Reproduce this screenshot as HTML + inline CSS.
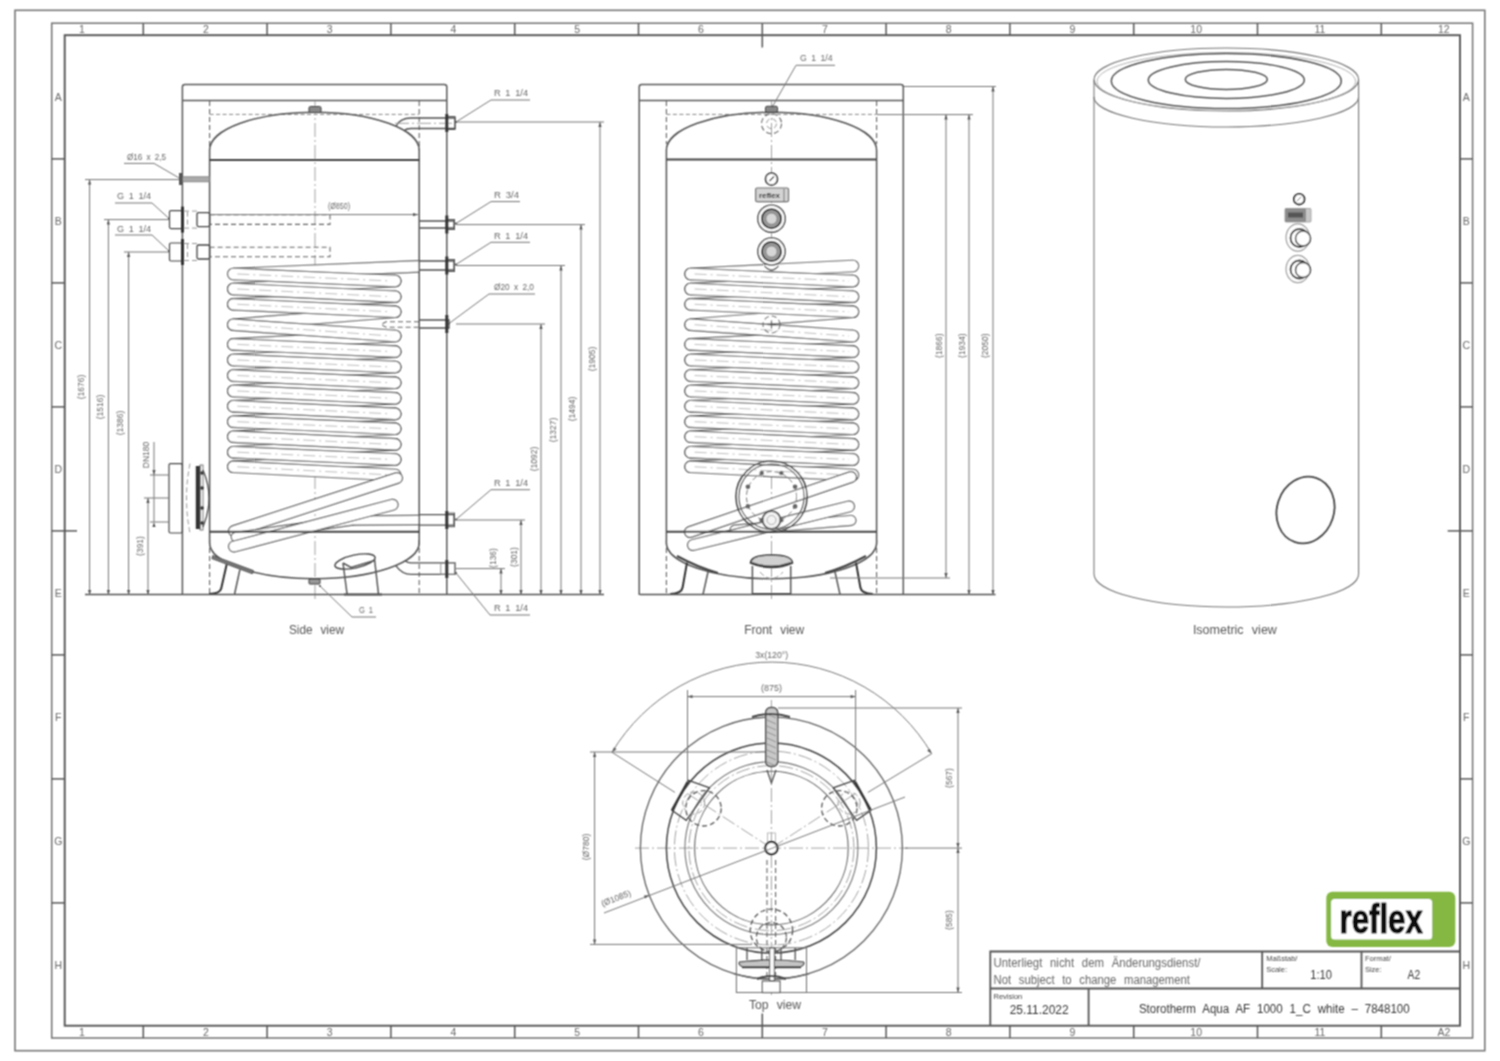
<!DOCTYPE html>
<html><head><meta charset="utf-8"><title>Storotherm Aqua AF 1000</title><style>
html,body{margin:0;padding:0;background:#fff;}
svg{display:block;}
text{font-family:"Liberation Sans",sans-serif;}
.fr{stroke:#555;stroke-width:1.5;}
.zn{font-size:10.5px;fill:#666;text-anchor:middle;}
.tb1{font-size:12.5px;fill:#666;word-spacing:5px;}
.tbs{font-size:7.5px;fill:#444;}
.tb2{font-size:12.5px;fill:#333;word-spacing:4px;}

.k{fill:none;stroke:#505050;stroke-width:1.3;}
.k2{fill:none;stroke:#555;stroke-width:1.5;}
.kc{fill:none;stroke:#5a5a5a;stroke-width:1.5;}
.kk{fill:none;stroke:#444;stroke-width:2;}
.d{fill:none;stroke:#777;stroke-width:1;}
.c{fill:none;stroke:#999;stroke-width:0.9;stroke-dasharray:14 3 2 3;}
.h{fill:none;stroke:#666;stroke-width:1.1;stroke-dasharray:5 3;}
.hl{fill:none;stroke:#999;stroke-width:1;stroke-dasharray:5 3;}
.hi{fill:none;stroke:#888;stroke-width:1;stroke-dasharray:4 2.5;}
.t{font-size:8.5px;fill:#666;word-spacing:2px;}
.tv{font-size:13px;fill:#555;word-spacing:5px;}
.ar{fill:#555;stroke:none;}
</style></head>
<body><svg width="1500" height="1061" viewBox="0 0 1500 1061">
<defs><filter id="bl" filterUnits="userSpaceOnUse" x="0" y="0" width="1500" height="1061"><feConvolveMatrix order="3" kernelMatrix="1 2 1 2 4 2 1 2 1" divisor="16" edgeMode="none"/></filter></defs>
<rect width="1500" height="1061" fill="#fff"/>
<g filter="url(#bl)">
<rect x="15" y="10.3" width="1469.8" height="1040.4" fill="none" stroke="#777" stroke-width="1.6"/>
<rect x="51.7" y="23.2" width="1420.9" height="1014.8" fill="none" stroke="#6e6e6e" stroke-width="1.45"/>
<rect x="64.7" y="35.2" width="1395.3" height="990.5" fill="none" stroke="#555" stroke-width="1.9"/>
<line x1="143.3" y1="23.2" x2="143.3" y2="35.2" class="fr"/>
<line x1="143.3" y1="1025.7" x2="143.3" y2="1038" class="fr"/>
<line x1="267.1" y1="23.2" x2="267.1" y2="35.2" class="fr"/>
<line x1="267.1" y1="1025.7" x2="267.1" y2="1038" class="fr"/>
<line x1="390.9" y1="23.2" x2="390.9" y2="35.2" class="fr"/>
<line x1="390.9" y1="1025.7" x2="390.9" y2="1038" class="fr"/>
<line x1="514.7" y1="23.2" x2="514.7" y2="35.2" class="fr"/>
<line x1="514.7" y1="1025.7" x2="514.7" y2="1038" class="fr"/>
<line x1="638.5" y1="23.2" x2="638.5" y2="35.2" class="fr"/>
<line x1="638.5" y1="1025.7" x2="638.5" y2="1038" class="fr"/>
<line x1="762.3" y1="23.2" x2="762.3" y2="47.5" class="fr"/>
<line x1="762.3" y1="1013.5" x2="762.3" y2="1038" class="fr"/>
<line x1="886.1" y1="23.2" x2="886.1" y2="35.2" class="fr"/>
<line x1="886.1" y1="1025.7" x2="886.1" y2="1038" class="fr"/>
<line x1="1009.9" y1="23.2" x2="1009.9" y2="35.2" class="fr"/>
<line x1="1009.9" y1="1025.7" x2="1009.9" y2="1038" class="fr"/>
<line x1="1133.7" y1="23.2" x2="1133.7" y2="35.2" class="fr"/>
<line x1="1133.7" y1="1025.7" x2="1133.7" y2="1038" class="fr"/>
<line x1="1257.5" y1="23.2" x2="1257.5" y2="35.2" class="fr"/>
<line x1="1257.5" y1="1025.7" x2="1257.5" y2="1038" class="fr"/>
<line x1="1381.3" y1="23.2" x2="1381.3" y2="35.2" class="fr"/>
<line x1="1381.3" y1="1025.7" x2="1381.3" y2="1038" class="fr"/>
<line x1="51.8" y1="158.9" x2="64.6" y2="158.9" class="fr"/>
<line x1="1460" y1="158.9" x2="1472.6" y2="158.9" class="fr"/>
<line x1="51.8" y1="282.9" x2="64.6" y2="282.9" class="fr"/>
<line x1="1460" y1="282.9" x2="1472.6" y2="282.9" class="fr"/>
<line x1="51.8" y1="406.9" x2="64.6" y2="406.9" class="fr"/>
<line x1="1460" y1="406.9" x2="1472.6" y2="406.9" class="fr"/>
<line x1="51.8" y1="530.9" x2="77" y2="530.9" class="fr"/>
<line x1="1447.7" y1="530.9" x2="1472.6" y2="530.9" class="fr"/>
<line x1="51.8" y1="654.9" x2="64.6" y2="654.9" class="fr"/>
<line x1="1460" y1="654.9" x2="1472.6" y2="654.9" class="fr"/>
<line x1="51.8" y1="778.9" x2="64.6" y2="778.9" class="fr"/>
<line x1="1460" y1="778.9" x2="1472.6" y2="778.9" class="fr"/>
<line x1="51.8" y1="902.9" x2="64.6" y2="902.9" class="fr"/>
<line x1="1460" y1="902.9" x2="1472.6" y2="902.9" class="fr"/>
<text x="82.0" y="33" class="zn">1</text>
<text x="82.0" y="1035.5" class="zn">1</text>
<text x="205.8" y="33" class="zn">2</text>
<text x="205.8" y="1035.5" class="zn">2</text>
<text x="329.6" y="33" class="zn">3</text>
<text x="329.6" y="1035.5" class="zn">3</text>
<text x="453.4" y="33" class="zn">4</text>
<text x="453.4" y="1035.5" class="zn">4</text>
<text x="577.2" y="33" class="zn">5</text>
<text x="577.2" y="1035.5" class="zn">5</text>
<text x="701.0" y="33" class="zn">6</text>
<text x="701.0" y="1035.5" class="zn">6</text>
<text x="824.8" y="33" class="zn">7</text>
<text x="824.8" y="1035.5" class="zn">7</text>
<text x="948.6" y="33" class="zn">8</text>
<text x="948.6" y="1035.5" class="zn">8</text>
<text x="1072.4" y="33" class="zn">9</text>
<text x="1072.4" y="1035.5" class="zn">9</text>
<text x="1196.2" y="33" class="zn">10</text>
<text x="1196.2" y="1035.5" class="zn">10</text>
<text x="1320.0" y="33" class="zn">11</text>
<text x="1320.0" y="1035.5" class="zn">11</text>
<text x="1443.8" y="33" class="zn">12</text>
<text x="1443.8" y="1035.5" class="zn">A2</text>
<text x="58.3" y="100.8" class="zn">A</text>
<text x="1466.3" y="100.8" class="zn">A</text>
<text x="58.3" y="224.8" class="zn">B</text>
<text x="1466.3" y="224.8" class="zn">B</text>
<text x="58.3" y="348.8" class="zn">C</text>
<text x="1466.3" y="348.8" class="zn">C</text>
<text x="58.3" y="472.8" class="zn">D</text>
<text x="1466.3" y="472.8" class="zn">D</text>
<text x="58.3" y="596.8" class="zn">E</text>
<text x="1466.3" y="596.8" class="zn">E</text>
<text x="58.3" y="720.8" class="zn">F</text>
<text x="1466.3" y="720.8" class="zn">F</text>
<text x="58.3" y="844.8" class="zn">G</text>
<text x="1466.3" y="844.8" class="zn">G</text>
<text x="58.3" y="968.8" class="zn">H</text>
<text x="1466.3" y="968.8" class="zn">H</text>
<path d="M990.3 1025.7 V951.5 H1460 M990.3 988.5 H1460 M1088.6 988.5 V1025.7 M1262.2 951.5 V988.5 M1361.5 951.5 V988.5" fill="none" stroke="#555" stroke-width="1.8"/>
<text x="993.5" y="967.4" class="tb1" textLength="207" lengthAdjust="spacingAndGlyphs">Unterliegt nicht dem Änderungsdienst/</text>
<text x="993.5" y="983.6" class="tb1" textLength="196.5" lengthAdjust="spacingAndGlyphs">Not subject to change management</text>
<text x="993.5" y="998.5" class="tbs">Revision</text>
<text x="1009.7" y="1014.4" class="tb2" textLength="59" lengthAdjust="spacingAndGlyphs">25.11.2022</text>
<text x="1138.9" y="1013" class="tb2" textLength="270.8" lengthAdjust="spacingAndGlyphs">Storotherm Aqua AF 1000 1_C white – 7848100</text>
<text x="1266.2" y="961" class="tbs">Maßstab/</text>
<text x="1266.2" y="972" class="tbs">Scale:</text>
<text x="1310.3" y="979" class="tb2" textLength="21.7" lengthAdjust="spacingAndGlyphs">1:10</text>
<text x="1364.9" y="961" class="tbs">Format/</text>
<text x="1364.9" y="972" class="tbs">Size:</text>
<text x="1407.6" y="979" class="tb2" textLength="12.6" lengthAdjust="spacingAndGlyphs">A2</text>
<rect x="1326.3" y="891.8" width="129" height="55.1" rx="6" fill="#84b843"/>
<rect x="1331.1" y="899" width="101" height="40.6" rx="3.5" fill="#fff"/>
<text x="1339.6" y="932.6" textLength="83.2" lengthAdjust="spacingAndGlyphs" style="font:bold 40px 'Liberation Sans',sans-serif" fill="#111" stroke="#111" stroke-width="1.1" stroke-linejoin="round">reflex</text>
<path d="M182.4 595 V87 Q182.4 84.5 185 84.5 H444.3 Q446.8 84.5 446.8 87 V595" class="kc" />
<line x1="182.4" y1="100.6" x2="446.8" y2="100.6" class="kc"/>
<path d="M209.6 101 V146 M419.2 101 V150" class="h" />
<path d="M209.6 114.4 H419.2" class="hi" />
<path d="M209.6 540 V595 M419.2 540 V595" class="h" />
<line x1="315.0" y1="101.0" x2="315.0" y2="600.0" class="c"/>
<path d="M395.2 281.0 L233.3 289.0" fill="none" stroke="#5a5a5a" stroke-width="12.6" stroke-linecap="round" stroke-linejoin="round"/><path d="M395.2 281.0 L233.3 289.0" fill="none" stroke="#fff" stroke-width="10.3" stroke-linecap="round" stroke-linejoin="round"/><path d="M395.2 296.7 L233.3 304.3" fill="none" stroke="#5a5a5a" stroke-width="12.6" stroke-linecap="round" stroke-linejoin="round"/><path d="M395.2 296.7 L233.3 304.3" fill="none" stroke="#fff" stroke-width="10.3" stroke-linecap="round" stroke-linejoin="round"/><path d="M395.2 311.8 L233.3 324.7" fill="none" stroke="#5a5a5a" stroke-width="12.6" stroke-linecap="round" stroke-linejoin="round"/><path d="M395.2 311.8 L233.3 324.7" fill="none" stroke="#fff" stroke-width="10.3" stroke-linecap="round" stroke-linejoin="round"/><path d="M395.2 336.0 L233.3 344.4" fill="none" stroke="#5a5a5a" stroke-width="12.6" stroke-linecap="round" stroke-linejoin="round"/><path d="M395.2 336.0 L233.3 344.4" fill="none" stroke="#fff" stroke-width="10.3" stroke-linecap="round" stroke-linejoin="round"/><path d="M395.2 351.6 L233.3 360.0" fill="none" stroke="#5a5a5a" stroke-width="12.6" stroke-linecap="round" stroke-linejoin="round"/><path d="M395.2 351.6 L233.3 360.0" fill="none" stroke="#fff" stroke-width="10.3" stroke-linecap="round" stroke-linejoin="round"/><path d="M395.2 367.0 L233.3 375.5" fill="none" stroke="#5a5a5a" stroke-width="12.6" stroke-linecap="round" stroke-linejoin="round"/><path d="M395.2 367.0 L233.3 375.5" fill="none" stroke="#fff" stroke-width="10.3" stroke-linecap="round" stroke-linejoin="round"/><path d="M395.2 382.8 L233.3 391.0" fill="none" stroke="#5a5a5a" stroke-width="12.6" stroke-linecap="round" stroke-linejoin="round"/><path d="M395.2 382.8 L233.3 391.0" fill="none" stroke="#fff" stroke-width="10.3" stroke-linecap="round" stroke-linejoin="round"/><path d="M395.2 398.3 L233.3 406.2" fill="none" stroke="#5a5a5a" stroke-width="12.6" stroke-linecap="round" stroke-linejoin="round"/><path d="M395.2 398.3 L233.3 406.2" fill="none" stroke="#fff" stroke-width="10.3" stroke-linecap="round" stroke-linejoin="round"/><path d="M395.2 413.9 L233.3 421.7" fill="none" stroke="#5a5a5a" stroke-width="12.6" stroke-linecap="round" stroke-linejoin="round"/><path d="M395.2 413.9 L233.3 421.7" fill="none" stroke="#fff" stroke-width="10.3" stroke-linecap="round" stroke-linejoin="round"/><path d="M395.2 428.8 L233.3 436.7" fill="none" stroke="#5a5a5a" stroke-width="12.6" stroke-linecap="round" stroke-linejoin="round"/><path d="M395.2 428.8 L233.3 436.7" fill="none" stroke="#fff" stroke-width="10.3" stroke-linecap="round" stroke-linejoin="round"/><path d="M395.2 444.4 L233.3 452.2" fill="none" stroke="#5a5a5a" stroke-width="12.6" stroke-linecap="round" stroke-linejoin="round"/><path d="M395.2 444.4 L233.3 452.2" fill="none" stroke="#fff" stroke-width="10.3" stroke-linecap="round" stroke-linejoin="round"/><path d="M395.2 459.5 L233.3 466.8" fill="none" stroke="#5a5a5a" stroke-width="12.6" stroke-linecap="round" stroke-linejoin="round"/><path d="M395.2 459.5 L233.3 466.8" fill="none" stroke="#fff" stroke-width="10.3" stroke-linecap="round" stroke-linejoin="round"/><path d="M233.3 274.0 L419.0 266.4" fill="none" stroke="#5a5a5a" stroke-width="12.6" stroke-linecap="butt" stroke-linejoin="round"/><path d="M233.3 274.0 L419.0 266.4" fill="none" stroke="#fff" stroke-width="10.3" stroke-linecap="butt" stroke-linejoin="round"/><path d="M233.3 274.0 L395.2 281.0" fill="none" stroke="#555" stroke-width="12.6" stroke-linecap="round" stroke-linejoin="round"/><path d="M233.3 274.0 L395.2 281.0" fill="none" stroke="#fff" stroke-width="10.3" stroke-linecap="round" stroke-linejoin="round"/><path d="M233.3 289.0 L395.2 296.7" fill="none" stroke="#555" stroke-width="12.6" stroke-linecap="round" stroke-linejoin="round"/><path d="M233.3 289.0 L395.2 296.7" fill="none" stroke="#fff" stroke-width="10.3" stroke-linecap="round" stroke-linejoin="round"/><path d="M233.3 304.3 L395.2 311.8" fill="none" stroke="#555" stroke-width="12.6" stroke-linecap="round" stroke-linejoin="round"/><path d="M233.3 304.3 L395.2 311.8" fill="none" stroke="#fff" stroke-width="10.3" stroke-linecap="round" stroke-linejoin="round"/><path d="M233.3 324.7 L395.2 336.0" fill="none" stroke="#555" stroke-width="12.6" stroke-linecap="round" stroke-linejoin="round"/><path d="M233.3 324.7 L395.2 336.0" fill="none" stroke="#fff" stroke-width="10.3" stroke-linecap="round" stroke-linejoin="round"/><path d="M233.3 344.4 L395.2 351.6" fill="none" stroke="#555" stroke-width="12.6" stroke-linecap="round" stroke-linejoin="round"/><path d="M233.3 344.4 L395.2 351.6" fill="none" stroke="#fff" stroke-width="10.3" stroke-linecap="round" stroke-linejoin="round"/><path d="M233.3 360.0 L395.2 367.0" fill="none" stroke="#555" stroke-width="12.6" stroke-linecap="round" stroke-linejoin="round"/><path d="M233.3 360.0 L395.2 367.0" fill="none" stroke="#fff" stroke-width="10.3" stroke-linecap="round" stroke-linejoin="round"/><path d="M233.3 375.5 L395.2 382.8" fill="none" stroke="#555" stroke-width="12.6" stroke-linecap="round" stroke-linejoin="round"/><path d="M233.3 375.5 L395.2 382.8" fill="none" stroke="#fff" stroke-width="10.3" stroke-linecap="round" stroke-linejoin="round"/><path d="M233.3 391.0 L395.2 398.3" fill="none" stroke="#555" stroke-width="12.6" stroke-linecap="round" stroke-linejoin="round"/><path d="M233.3 391.0 L395.2 398.3" fill="none" stroke="#fff" stroke-width="10.3" stroke-linecap="round" stroke-linejoin="round"/><path d="M233.3 406.2 L395.2 413.9" fill="none" stroke="#555" stroke-width="12.6" stroke-linecap="round" stroke-linejoin="round"/><path d="M233.3 406.2 L395.2 413.9" fill="none" stroke="#fff" stroke-width="10.3" stroke-linecap="round" stroke-linejoin="round"/><path d="M233.3 421.7 L395.2 428.8" fill="none" stroke="#555" stroke-width="12.6" stroke-linecap="round" stroke-linejoin="round"/><path d="M233.3 421.7 L395.2 428.8" fill="none" stroke="#fff" stroke-width="10.3" stroke-linecap="round" stroke-linejoin="round"/><path d="M233.3 436.7 L395.2 444.4" fill="none" stroke="#555" stroke-width="12.6" stroke-linecap="round" stroke-linejoin="round"/><path d="M233.3 436.7 L395.2 444.4" fill="none" stroke="#fff" stroke-width="10.3" stroke-linecap="round" stroke-linejoin="round"/><path d="M233.3 452.2 L395.2 459.5" fill="none" stroke="#555" stroke-width="12.6" stroke-linecap="round" stroke-linejoin="round"/><path d="M233.3 452.2 L395.2 459.5" fill="none" stroke="#fff" stroke-width="10.3" stroke-linecap="round" stroke-linejoin="round"/><path d="M233.3 466.8 L395.2 475.0" fill="none" stroke="#555" stroke-width="12.6" stroke-linecap="round" stroke-linejoin="round"/><path d="M233.3 466.8 L395.2 475.0" fill="none" stroke="#fff" stroke-width="10.3" stroke-linecap="round" stroke-linejoin="round"/><line x1="237.3" y1="274.0" x2="391.2" y2="281.0" stroke="#bbb" stroke-width="1" stroke-dasharray="12 4 2 4"/><line x1="237.3" y1="289.0" x2="391.2" y2="296.7" stroke="#bbb" stroke-width="1" stroke-dasharray="12 4 2 4"/><line x1="237.3" y1="304.3" x2="391.2" y2="311.8" stroke="#bbb" stroke-width="1" stroke-dasharray="12 4 2 4"/><line x1="237.3" y1="324.7" x2="391.2" y2="336.0" stroke="#bbb" stroke-width="1" stroke-dasharray="12 4 2 4"/><line x1="237.3" y1="344.4" x2="391.2" y2="351.6" stroke="#bbb" stroke-width="1" stroke-dasharray="12 4 2 4"/><line x1="237.3" y1="360.0" x2="391.2" y2="367.0" stroke="#bbb" stroke-width="1" stroke-dasharray="12 4 2 4"/><line x1="237.3" y1="375.5" x2="391.2" y2="382.8" stroke="#bbb" stroke-width="1" stroke-dasharray="12 4 2 4"/><line x1="237.3" y1="391.0" x2="391.2" y2="398.3" stroke="#bbb" stroke-width="1" stroke-dasharray="12 4 2 4"/><line x1="237.3" y1="406.2" x2="391.2" y2="413.9" stroke="#bbb" stroke-width="1" stroke-dasharray="12 4 2 4"/><line x1="237.3" y1="421.7" x2="391.2" y2="428.8" stroke="#bbb" stroke-width="1" stroke-dasharray="12 4 2 4"/><line x1="237.3" y1="436.7" x2="391.2" y2="444.4" stroke="#bbb" stroke-width="1" stroke-dasharray="12 4 2 4"/><line x1="237.3" y1="452.2" x2="391.2" y2="459.5" stroke="#bbb" stroke-width="1" stroke-dasharray="12 4 2 4"/><line x1="237.3" y1="466.8" x2="391.2" y2="475.0" stroke="#bbb" stroke-width="1" stroke-dasharray="12 4 2 4"/>
<path d="M397.0 478.0 L234.0 531.0" fill="none" stroke="#555" stroke-width="12" stroke-linecap="round" stroke-linejoin="round"/><path d="M397.0 478.0 L234.0 531.0" fill="none" stroke="#fff" stroke-width="9.7" stroke-linecap="round" stroke-linejoin="round"/><path d="M236.0 537.0 L352.0 520.5" fill="none" stroke="#555" stroke-width="10.5" stroke-linecap="round" stroke-linejoin="round"/><path d="M236.0 537.0 L352.0 520.5" fill="none" stroke="#fff" stroke-width="8.2" stroke-linecap="round" stroke-linejoin="round"/><path d="M352.0 520.5 L419.0 520.0" fill="none" stroke="#555" stroke-width="10.5" stroke-linecap="butt" stroke-linejoin="round"/><path d="M352.0 520.5 L419.0 520.0" fill="none" stroke="#fff" stroke-width="8.2" stroke-linecap="butt" stroke-linejoin="round"/><path d="M234.0 546.5 L392.6 504.8" fill="none" stroke="#555" stroke-width="12" stroke-linecap="round" stroke-linejoin="round"/><path d="M234.0 546.5 L392.6 504.8" fill="none" stroke="#fff" stroke-width="9.7" stroke-linecap="round" stroke-linejoin="round"/>
<path d="M209.6 160 V150 A104.80 37.8 0 0 1 419.2 150 V160" class="k2" /><path d="M209.6 160 V532 M419.2 160 V532" class="k2" /><path d="M209.6 532 V543 A104.80 35.8 0 0 0 419.2 543 V532" class="k2" />
<line x1="209.6" y1="160.0" x2="419.2" y2="160.0" class="kk"/>
<line x1="209.6" y1="531.7" x2="419.2" y2="531.7" class="kk"/>
<rect x="309" y="106.5" width="12" height="6" rx="1.5" fill="#888" stroke="#333" stroke-width="1"/>
<rect x="309" y="579" width="11" height="5" rx="1" fill="#999" stroke="#333" stroke-width="1"/>
<path d="M396 126.2 Q400 118 411 118 H455 V128.5 H411 Q406.5 128.5 404.5 130.7" class="k" />
<path d="M395 123.3 H452" class="c" />
<rect x="447" y="116.5" width="8" height="13" fill="none" stroke="#555" stroke-width="1"/>
<path d="M419.2 221 H454 V228 H419.2" class="k" />
<rect x="447" y="219.5" width="7.5" height="10" fill="none" stroke="#555" stroke-width="1"/>
<path d="M419.2 261 H454 V270 H419.2" class="k" />
<rect x="447" y="259.5" width="7.5" height="12" fill="none" stroke="#555" stroke-width="1"/>
<path d="M419.2 514.6 H454 V525.2 H419.2" class="k" />
<rect x="447" y="513.1" width="7.5" height="13.600000000000023" fill="none" stroke="#555" stroke-width="1"/>
<path d="M419 321.8 H386 L381 324.5 L386 327.2 H419" class="h" />
<path d="M419.2 320 H449 V328 H419.2" class="k" />
<path d="M405.4 561 Q407.5 562.9 411 562.9 H455 V574.3 H411 Q402 574.3 395.8 565.6" class="k" />
<rect x="440.8" y="562.9" width="14.4" height="11.4" fill="none" stroke="#888" stroke-width="0.9"/>
<rect x="445.3" y="114" width="3" height="18" fill="#333"/>
<rect x="445.3" y="215.5" width="3" height="18" fill="#333"/>
<rect x="445.3" y="256.5" width="3" height="18" fill="#333"/>
<rect x="445.3" y="315" width="3" height="18" fill="#333"/>
<rect x="445.3" y="511" width="3" height="18" fill="#333"/>
<rect x="445.3" y="560" width="3" height="18" fill="#333"/>
<rect x="182.4" y="176.8" width="27" height="5" fill="#aaa" stroke="#777" stroke-width="0.8"/>
<rect x="179" y="173" width="3.6" height="12" fill="#555"/>
<rect x="169.5" y="210.6" width="12.5" height="18" rx="1.5" fill="none" stroke="#444" stroke-width="1.2"/>
<rect x="181" y="206.6" width="3" height="26" fill="#333"/>
<rect x="197" y="212.6" width="12.6" height="14" rx="1.5" fill="none" stroke="#444" stroke-width="1.3"/>
<path d="M184 211.1 H197 M184 228.1 H197 M187.5 211.6 V227.6" class="hl" />
<path d="M209.6 214.8 H330 V224.4 H209.6" class="h" />
<rect x="169.5" y="243.0" width="12.5" height="18" rx="1.5" fill="none" stroke="#444" stroke-width="1.2"/>
<rect x="181" y="239.0" width="3" height="26" fill="#333"/>
<rect x="197" y="245.0" width="12.6" height="14" rx="1.5" fill="none" stroke="#444" stroke-width="1.3"/>
<path d="M184 243.5 H197 M184 260.5 H197 M187.5 244.0 V260.0" class="hl" />
<path d="M209.6 247.2 H330 V256.8 H209.6" class="h" />
<rect x="169" y="463.6" width="13.4" height="69.4" rx="1.5" fill="none" stroke="#444" stroke-width="1.2"/>
<path d="M190 463.6 Q183 498 190 533" class="hl" />
<rect x="195.8" y="466" width="4.4" height="63" fill="#333"/>
<rect x="200" y="465" width="3" height="65" fill="none" stroke="#555" stroke-width="0.8"/>
<circle cx="202" cy="473" r="1.8" fill="#333"/>
<circle cx="202" cy="488" r="1.8" fill="#333"/>
<circle cx="202" cy="508" r="1.8" fill="#333"/>
<circle cx="202" cy="523" r="1.8" fill="#333"/>
<path d="M203 470 Q215 498 203 527" class="k" />
<path d="M212.8 555.5 L253.5 570.6 L252.3 573.8 L211.8 558.6 Z" fill="#777" stroke="#444" stroke-width="0.8"/>
<path d="M226.7 564.3 L221.2 588.5 Q220 593.8 209 594" fill="none" stroke="#333" stroke-width="2"/>
<path d="M239.9 569.6 L234.6 594" fill="none" stroke="#555" stroke-width="1.5"/>
<path d="M347.2 595 L343 563 M378.6 595 L374.5 559" class="k2" />
<ellipse cx="355" cy="561.5" rx="20.5" ry="6.5" transform="rotate(-12 355 561.5)" fill="none" stroke="#444" stroke-width="1.4"/>
<path d="M343 563 L351 567.5 L374.5 560.5" class="k2" />
<line x1="344.0" y1="594.5" x2="382.0" y2="594.5" class="kk"/>
<line x1="85.0" y1="594.6" x2="604.0" y2="594.6" class="k2"/>
<line x1="89.6" y1="179.6" x2="89.6" y2="595.0" class="d"/><polygon class="ar" points="89.6,179.6 88.0,184.6 91.2,184.6"/><polygon class="ar" points="89.6,595.0 88.0,590.0 91.2,590.0"/>
<line x1="108.4" y1="219.6" x2="108.4" y2="595.0" class="d"/><polygon class="ar" points="108.4,219.6 106.8,224.6 110.0,224.6"/><polygon class="ar" points="108.4,595.0 106.8,590.0 110.0,590.0"/>
<line x1="128.6" y1="252.0" x2="128.6" y2="595.0" class="d"/><polygon class="ar" points="128.6,252.0 127.0,257.0 130.2,257.0"/><polygon class="ar" points="128.6,595.0 127.0,590.0 130.2,590.0"/>
<line x1="148.0" y1="498.0" x2="148.0" y2="595.0" class="d"/><polygon class="ar" points="148.0,498.0 146.4,503.0 149.6,503.0"/><polygon class="ar" points="148.0,595.0 146.4,590.0 149.6,590.0"/>
<line x1="85.0" y1="179.6" x2="179.0" y2="179.6" class="d"/>
<line x1="104.0" y1="219.6" x2="169.5" y2="219.6" class="d"/>
<line x1="124.0" y1="252.0" x2="169.5" y2="252.0" class="d"/>
<line x1="144.0" y1="498.0" x2="169.0" y2="498.0" class="d"/>
<line x1="150.0" y1="475.0" x2="169.0" y2="475.0" class="d"/>
<line x1="150.0" y1="522.0" x2="169.0" y2="522.0" class="d"/>
<line x1="154.0" y1="442.0" x2="154.0" y2="522.0" class="d"/>
<polygon class="ar" points="154.0,475.0 152.4,470.0 155.6,470.0"/>
<polygon class="ar" points="154.0,522.0 152.4,527.0 155.6,527.0"/>
<text x="0" y="0" class="t" text-anchor="middle" transform="translate(84.0 387.0) rotate(-90)">(1676)</text>
<text x="0" y="0" class="t" text-anchor="middle" transform="translate(103.0 407.0) rotate(-90)">(1516)</text>
<text x="0" y="0" class="t" text-anchor="middle" transform="translate(123.0 423.0) rotate(-90)">(1386)</text>
<text x="0" y="0" class="t" text-anchor="middle" transform="translate(149.0 455.0) rotate(-90)">DN180</text>
<text x="0" y="0" class="t" text-anchor="middle" transform="translate(142.5 546.0) rotate(-90)">(391)</text>
<line x1="600.0" y1="122.0" x2="600.0" y2="595.0" class="d"/><polygon class="ar" points="600.0,122.0 598.4,127.0 601.6,127.0"/><polygon class="ar" points="600.0,595.0 598.4,590.0 601.6,590.0"/>
<line x1="456.0" y1="122.0" x2="604.0" y2="122.0" class="d"/>
<line x1="581.0" y1="224.6" x2="581.0" y2="595.0" class="d"/><polygon class="ar" points="581.0,224.6 579.4,229.6 582.6,229.6"/><polygon class="ar" points="581.0,595.0 579.4,590.0 582.6,590.0"/>
<line x1="456.0" y1="224.6" x2="585.0" y2="224.6" class="d"/>
<line x1="561.0" y1="265.5" x2="561.0" y2="595.0" class="d"/><polygon class="ar" points="561.0,265.5 559.4,270.5 562.6,270.5"/><polygon class="ar" points="561.0,595.0 559.4,590.0 562.6,590.0"/>
<line x1="456.0" y1="265.5" x2="565.0" y2="265.5" class="d"/>
<line x1="541.0" y1="324.0" x2="541.0" y2="595.0" class="d"/><polygon class="ar" points="541.0,324.0 539.4,329.0 542.6,329.0"/><polygon class="ar" points="541.0,595.0 539.4,590.0 542.6,590.0"/>
<line x1="456.0" y1="324.0" x2="545.0" y2="324.0" class="d"/>
<line x1="521.0" y1="520.0" x2="521.0" y2="595.0" class="d"/><polygon class="ar" points="521.0,520.0 519.4,525.0 522.6,525.0"/><polygon class="ar" points="521.0,595.0 519.4,590.0 522.6,590.0"/>
<line x1="456.0" y1="520.0" x2="525.0" y2="520.0" class="d"/>
<line x1="501.0" y1="568.6" x2="501.0" y2="595.0" class="d"/><polygon class="ar" points="501.0,568.6 499.4,573.6 502.6,573.6"/><polygon class="ar" points="501.0,595.0 499.4,590.0 502.6,590.0"/>
<line x1="456.0" y1="568.6" x2="505.0" y2="568.6" class="d"/>
<text x="0" y="0" class="t" text-anchor="middle" transform="translate(595.0 359.0) rotate(-90)">(1905)</text>
<text x="0" y="0" class="t" text-anchor="middle" transform="translate(575.0 409.0) rotate(-90)">(1494)</text>
<text x="0" y="0" class="t" text-anchor="middle" transform="translate(556.0 430.0) rotate(-90)">(1327)</text>
<text x="0" y="0" class="t" text-anchor="middle" transform="translate(536.5 459.0) rotate(-90)">(1092)</text>
<text x="0" y="0" class="t" text-anchor="middle" transform="translate(517.0 557.0) rotate(-90)">(301)</text>
<text x="0" y="0" class="t" text-anchor="middle" transform="translate(496.0 558.0) rotate(-90)">(136)</text>
<line x1="211.0" y1="214.6" x2="418.0" y2="214.6" class="d"/>
<polygon class="ar" points="418.0,214.6 413.0,213.0 413.0,216.2"/>
<text x="339.0" y="209.0" class="t" text-anchor="middle" textLength="22" lengthAdjust="spacingAndGlyphs">(Ø850)</text>
<text x="127.0" y="159.5" class="t" text-anchor="start" textLength="39" lengthAdjust="spacingAndGlyphs">Ø16 x 2,5</text><line x1="124.0" y1="163.4" x2="154.0" y2="163.4" class="d"/><line x1="154.0" y1="163.4" x2="180.0" y2="178.5" class="d"/><circle cx="180.0" cy="178.5" r="1.1" class="ar"/>
<text x="117.0" y="199.0" class="t" text-anchor="start" textLength="34" lengthAdjust="spacingAndGlyphs">G 1 1/4</text><line x1="115.0" y1="203.0" x2="152.0" y2="203.0" class="d"/><line x1="152.0" y1="203.0" x2="169.0" y2="218.5" class="d"/><circle cx="169.0" cy="218.5" r="1.1" class="ar"/>
<text x="117.0" y="231.5" class="t" text-anchor="start" textLength="34" lengthAdjust="spacingAndGlyphs">G 1 1/4</text><line x1="115.0" y1="235.0" x2="152.0" y2="235.0" class="d"/><line x1="152.0" y1="235.0" x2="169.0" y2="251.0" class="d"/><circle cx="169.0" cy="251.0" r="1.1" class="ar"/>
<text x="494.0" y="96.0" class="t" text-anchor="start" textLength="34" lengthAdjust="spacingAndGlyphs">R 1 1/4</text><line x1="491.0" y1="100.0" x2="530.0" y2="100.0" class="d"/><line x1="491.0" y1="100.0" x2="456.0" y2="122.0" class="d"/><circle cx="456.0" cy="122.0" r="1.1" class="ar"/>
<text x="494.0" y="197.5" class="t" text-anchor="start" textLength="25" lengthAdjust="spacingAndGlyphs">R 3/4</text><line x1="491.0" y1="201.6" x2="520.0" y2="201.6" class="d"/><line x1="491.0" y1="201.6" x2="456.0" y2="223.5" class="d"/><circle cx="456.0" cy="223.5" r="1.1" class="ar"/>
<text x="494.0" y="238.5" class="t" text-anchor="start" textLength="34" lengthAdjust="spacingAndGlyphs">R 1 1/4</text><line x1="491.0" y1="242.3" x2="530.0" y2="242.3" class="d"/><line x1="491.0" y1="242.3" x2="456.0" y2="264.5" class="d"/><circle cx="456.0" cy="264.5" r="1.1" class="ar"/>
<text x="494.0" y="290.0" class="t" text-anchor="start" textLength="40" lengthAdjust="spacingAndGlyphs">Ø20 x 2,0</text><line x1="489.0" y1="294.0" x2="535.0" y2="294.0" class="d"/><line x1="489.0" y1="294.0" x2="449.0" y2="323.5" class="d"/><circle cx="449.0" cy="323.5" r="1.1" class="ar"/>
<text x="494.0" y="486.0" class="t" text-anchor="start" textLength="34" lengthAdjust="spacingAndGlyphs">R 1 1/4</text><line x1="491.0" y1="489.7" x2="530.0" y2="489.7" class="d"/><line x1="491.0" y1="489.7" x2="456.0" y2="519.5" class="d"/><circle cx="456.0" cy="519.5" r="1.1" class="ar"/>
<text x="494.0" y="611.0" class="t" text-anchor="start" textLength="34" lengthAdjust="spacingAndGlyphs">R 1 1/4</text><line x1="490.0" y1="615.0" x2="530.0" y2="615.0" class="d"/><line x1="490.0" y1="615.0" x2="456.0" y2="573.0" class="d"/><circle cx="456.0" cy="573.0" r="1.1" class="ar"/>
<text x="359.0" y="613.0" class="t" text-anchor="start" textLength="14" lengthAdjust="spacingAndGlyphs">G 1</text><line x1="352.0" y1="617.0" x2="376.0" y2="617.0" class="d"/><line x1="352.0" y1="617.0" x2="320.0" y2="586.0" class="d"/><circle cx="320.0" cy="586.0" r="1.1" class="ar"/>
<text x="316.5" y="633.5" class="tv" text-anchor="middle" textLength="55" lengthAdjust="spacingAndGlyphs">Side view</text>
<path d="M639.2 595 V87 Q639.2 84.5 641.7 84.5 H900.8 Q903.3 84.5 903.3 87 V595" class="kc" />
<line x1="639.2" y1="100.4" x2="903.3" y2="100.4" class="kc"/>
<path d="M666.4 101 V144 M876.6 101 V144" class="h" />
<path d="M666.4 114.4 H876.6" class="hi" />
<path d="M666.4 540 V595 M876.6 540 V595" class="h" />
<line x1="771.5" y1="101.0" x2="771.5" y2="600.0" class="c"/>
<path d="M852.9 266.0 L690.6 274.0" fill="none" stroke="#5a5a5a" stroke-width="12.6" stroke-linecap="round" stroke-linejoin="round"/><path d="M852.9 266.0 L690.6 274.0" fill="none" stroke="#fff" stroke-width="10.3" stroke-linecap="round" stroke-linejoin="round"/><path d="M852.9 281.0 L690.6 289.0" fill="none" stroke="#5a5a5a" stroke-width="12.6" stroke-linecap="round" stroke-linejoin="round"/><path d="M852.9 281.0 L690.6 289.0" fill="none" stroke="#fff" stroke-width="10.3" stroke-linecap="round" stroke-linejoin="round"/><path d="M852.9 296.7 L690.6 304.3" fill="none" stroke="#5a5a5a" stroke-width="12.6" stroke-linecap="round" stroke-linejoin="round"/><path d="M852.9 296.7 L690.6 304.3" fill="none" stroke="#fff" stroke-width="10.3" stroke-linecap="round" stroke-linejoin="round"/><path d="M852.9 311.8 L690.6 324.7" fill="none" stroke="#5a5a5a" stroke-width="12.6" stroke-linecap="round" stroke-linejoin="round"/><path d="M852.9 311.8 L690.6 324.7" fill="none" stroke="#fff" stroke-width="10.3" stroke-linecap="round" stroke-linejoin="round"/><path d="M852.9 336.0 L690.6 344.4" fill="none" stroke="#5a5a5a" stroke-width="12.6" stroke-linecap="round" stroke-linejoin="round"/><path d="M852.9 336.0 L690.6 344.4" fill="none" stroke="#fff" stroke-width="10.3" stroke-linecap="round" stroke-linejoin="round"/><path d="M852.9 351.6 L690.6 360.0" fill="none" stroke="#5a5a5a" stroke-width="12.6" stroke-linecap="round" stroke-linejoin="round"/><path d="M852.9 351.6 L690.6 360.0" fill="none" stroke="#fff" stroke-width="10.3" stroke-linecap="round" stroke-linejoin="round"/><path d="M852.9 367.0 L690.6 375.5" fill="none" stroke="#5a5a5a" stroke-width="12.6" stroke-linecap="round" stroke-linejoin="round"/><path d="M852.9 367.0 L690.6 375.5" fill="none" stroke="#fff" stroke-width="10.3" stroke-linecap="round" stroke-linejoin="round"/><path d="M852.9 382.8 L690.6 391.0" fill="none" stroke="#5a5a5a" stroke-width="12.6" stroke-linecap="round" stroke-linejoin="round"/><path d="M852.9 382.8 L690.6 391.0" fill="none" stroke="#fff" stroke-width="10.3" stroke-linecap="round" stroke-linejoin="round"/><path d="M852.9 398.3 L690.6 406.2" fill="none" stroke="#5a5a5a" stroke-width="12.6" stroke-linecap="round" stroke-linejoin="round"/><path d="M852.9 398.3 L690.6 406.2" fill="none" stroke="#fff" stroke-width="10.3" stroke-linecap="round" stroke-linejoin="round"/><path d="M852.9 413.9 L690.6 421.7" fill="none" stroke="#5a5a5a" stroke-width="12.6" stroke-linecap="round" stroke-linejoin="round"/><path d="M852.9 413.9 L690.6 421.7" fill="none" stroke="#fff" stroke-width="10.3" stroke-linecap="round" stroke-linejoin="round"/><path d="M852.9 428.8 L690.6 436.7" fill="none" stroke="#5a5a5a" stroke-width="12.6" stroke-linecap="round" stroke-linejoin="round"/><path d="M852.9 428.8 L690.6 436.7" fill="none" stroke="#fff" stroke-width="10.3" stroke-linecap="round" stroke-linejoin="round"/><path d="M852.9 444.4 L690.6 452.2" fill="none" stroke="#5a5a5a" stroke-width="12.6" stroke-linecap="round" stroke-linejoin="round"/><path d="M852.9 444.4 L690.6 452.2" fill="none" stroke="#fff" stroke-width="10.3" stroke-linecap="round" stroke-linejoin="round"/><path d="M852.9 459.5 L690.6 466.8" fill="none" stroke="#5a5a5a" stroke-width="12.6" stroke-linecap="round" stroke-linejoin="round"/><path d="M852.9 459.5 L690.6 466.8" fill="none" stroke="#fff" stroke-width="10.3" stroke-linecap="round" stroke-linejoin="round"/><path d="M690.6 274.0 L852.9 281.0" fill="none" stroke="#555" stroke-width="12.6" stroke-linecap="round" stroke-linejoin="round"/><path d="M690.6 274.0 L852.9 281.0" fill="none" stroke="#fff" stroke-width="10.3" stroke-linecap="round" stroke-linejoin="round"/><path d="M690.6 289.0 L852.9 296.7" fill="none" stroke="#555" stroke-width="12.6" stroke-linecap="round" stroke-linejoin="round"/><path d="M690.6 289.0 L852.9 296.7" fill="none" stroke="#fff" stroke-width="10.3" stroke-linecap="round" stroke-linejoin="round"/><path d="M690.6 304.3 L852.9 311.8" fill="none" stroke="#555" stroke-width="12.6" stroke-linecap="round" stroke-linejoin="round"/><path d="M690.6 304.3 L852.9 311.8" fill="none" stroke="#fff" stroke-width="10.3" stroke-linecap="round" stroke-linejoin="round"/><path d="M690.6 324.7 L852.9 336.0" fill="none" stroke="#555" stroke-width="12.6" stroke-linecap="round" stroke-linejoin="round"/><path d="M690.6 324.7 L852.9 336.0" fill="none" stroke="#fff" stroke-width="10.3" stroke-linecap="round" stroke-linejoin="round"/><path d="M690.6 344.4 L852.9 351.6" fill="none" stroke="#555" stroke-width="12.6" stroke-linecap="round" stroke-linejoin="round"/><path d="M690.6 344.4 L852.9 351.6" fill="none" stroke="#fff" stroke-width="10.3" stroke-linecap="round" stroke-linejoin="round"/><path d="M690.6 360.0 L852.9 367.0" fill="none" stroke="#555" stroke-width="12.6" stroke-linecap="round" stroke-linejoin="round"/><path d="M690.6 360.0 L852.9 367.0" fill="none" stroke="#fff" stroke-width="10.3" stroke-linecap="round" stroke-linejoin="round"/><path d="M690.6 375.5 L852.9 382.8" fill="none" stroke="#555" stroke-width="12.6" stroke-linecap="round" stroke-linejoin="round"/><path d="M690.6 375.5 L852.9 382.8" fill="none" stroke="#fff" stroke-width="10.3" stroke-linecap="round" stroke-linejoin="round"/><path d="M690.6 391.0 L852.9 398.3" fill="none" stroke="#555" stroke-width="12.6" stroke-linecap="round" stroke-linejoin="round"/><path d="M690.6 391.0 L852.9 398.3" fill="none" stroke="#fff" stroke-width="10.3" stroke-linecap="round" stroke-linejoin="round"/><path d="M690.6 406.2 L852.9 413.9" fill="none" stroke="#555" stroke-width="12.6" stroke-linecap="round" stroke-linejoin="round"/><path d="M690.6 406.2 L852.9 413.9" fill="none" stroke="#fff" stroke-width="10.3" stroke-linecap="round" stroke-linejoin="round"/><path d="M690.6 421.7 L852.9 428.8" fill="none" stroke="#555" stroke-width="12.6" stroke-linecap="round" stroke-linejoin="round"/><path d="M690.6 421.7 L852.9 428.8" fill="none" stroke="#fff" stroke-width="10.3" stroke-linecap="round" stroke-linejoin="round"/><path d="M690.6 436.7 L852.9 444.4" fill="none" stroke="#555" stroke-width="12.6" stroke-linecap="round" stroke-linejoin="round"/><path d="M690.6 436.7 L852.9 444.4" fill="none" stroke="#fff" stroke-width="10.3" stroke-linecap="round" stroke-linejoin="round"/><path d="M690.6 452.2 L852.9 459.5" fill="none" stroke="#555" stroke-width="12.6" stroke-linecap="round" stroke-linejoin="round"/><path d="M690.6 452.2 L852.9 459.5" fill="none" stroke="#fff" stroke-width="10.3" stroke-linecap="round" stroke-linejoin="round"/><path d="M690.6 466.8 L852.9 475.0" fill="none" stroke="#555" stroke-width="12.6" stroke-linecap="round" stroke-linejoin="round"/><path d="M690.6 466.8 L852.9 475.0" fill="none" stroke="#fff" stroke-width="10.3" stroke-linecap="round" stroke-linejoin="round"/><line x1="694.6" y1="274.0" x2="848.9" y2="281.0" stroke="#bbb" stroke-width="1" stroke-dasharray="12 4 2 4"/><line x1="694.6" y1="289.0" x2="848.9" y2="296.7" stroke="#bbb" stroke-width="1" stroke-dasharray="12 4 2 4"/><line x1="694.6" y1="304.3" x2="848.9" y2="311.8" stroke="#bbb" stroke-width="1" stroke-dasharray="12 4 2 4"/><line x1="694.6" y1="324.7" x2="848.9" y2="336.0" stroke="#bbb" stroke-width="1" stroke-dasharray="12 4 2 4"/><line x1="694.6" y1="344.4" x2="848.9" y2="351.6" stroke="#bbb" stroke-width="1" stroke-dasharray="12 4 2 4"/><line x1="694.6" y1="360.0" x2="848.9" y2="367.0" stroke="#bbb" stroke-width="1" stroke-dasharray="12 4 2 4"/><line x1="694.6" y1="375.5" x2="848.9" y2="382.8" stroke="#bbb" stroke-width="1" stroke-dasharray="12 4 2 4"/><line x1="694.6" y1="391.0" x2="848.9" y2="398.3" stroke="#bbb" stroke-width="1" stroke-dasharray="12 4 2 4"/><line x1="694.6" y1="406.2" x2="848.9" y2="413.9" stroke="#bbb" stroke-width="1" stroke-dasharray="12 4 2 4"/><line x1="694.6" y1="421.7" x2="848.9" y2="428.8" stroke="#bbb" stroke-width="1" stroke-dasharray="12 4 2 4"/><line x1="694.6" y1="436.7" x2="848.9" y2="444.4" stroke="#bbb" stroke-width="1" stroke-dasharray="12 4 2 4"/><line x1="694.6" y1="452.2" x2="848.9" y2="459.5" stroke="#bbb" stroke-width="1" stroke-dasharray="12 4 2 4"/><line x1="694.6" y1="466.8" x2="848.9" y2="475.0" stroke="#bbb" stroke-width="1" stroke-dasharray="12 4 2 4"/>
<path d="M851.0 477.0 L690.0 532.0" fill="none" stroke="#555" stroke-width="12" stroke-linecap="round" stroke-linejoin="round"/><path d="M851.0 477.0 L690.0 532.0" fill="none" stroke="#fff" stroke-width="9.7" stroke-linecap="round" stroke-linejoin="round"/><path d="M735.0 530.0 L851.0 520.4" fill="none" stroke="#555" stroke-width="11" stroke-linecap="round" stroke-linejoin="round"/><path d="M735.0 530.0 L851.0 520.4" fill="none" stroke="#fff" stroke-width="8.7" stroke-linecap="round" stroke-linejoin="round"/><path d="M693.0 545.0 L849.0 506.5" fill="none" stroke="#555" stroke-width="12" stroke-linecap="round" stroke-linejoin="round"/><path d="M693.0 545.0 L849.0 506.5" fill="none" stroke="#fff" stroke-width="9.7" stroke-linecap="round" stroke-linejoin="round"/>
<path d="M666.4 160 V150 A105.10 37.8 0 0 1 876.6 150 V160" class="k2" /><path d="M666.4 160 V532 M876.6 160 V532" class="k2" /><path d="M666.4 532 V543 A105.10 35.8 0 0 0 876.6 543 V532" class="k2" />
<line x1="666.4" y1="159.5" x2="876.6" y2="159.5" class="kk"/>
<line x1="666.4" y1="531.8" x2="876.6" y2="531.8" class="kk"/>
<rect x="765.5" y="106.3" width="12" height="6" rx="1.5" fill="#888" stroke="#333" stroke-width="1"/>
<circle cx="771.5" cy="123.7" r="10" class="h"/>
<circle cx="771.5" cy="123.7" r="5" class="hl"/>
<circle cx="771.5" cy="179" r="6" fill="#fff" stroke="#333" stroke-width="1.6"/>
<line x1="769.5" y1="181" x2="774.0" y2="176.5" stroke="#333" stroke-width="1.2"/>
<rect x="755.7" y="188" width="32.8" height="13.7" rx="1.5" fill="#d4d4d4" stroke="#666" stroke-width="1.2"/>
<line x1="784" y1="189" x2="784" y2="201" stroke="#777" stroke-width="1"/>
<text x="769.5" y="198.3" text-anchor="middle" textLength="21" lengthAdjust="spacingAndGlyphs" style="font:bold 8px 'Liberation Sans',sans-serif" fill="#333">reflex</text>
<circle cx="771.5" cy="218.7" r="13.6" fill="#fff" stroke="#444" stroke-width="1.4"/>
<circle cx="771.5" cy="218.7" r="9.6" fill="#999" stroke="#333" stroke-width="1.8"/>
<circle cx="771.5" cy="218.7" r="5.6" fill="#d6d6d6" stroke="#777" stroke-width="0.8"/>
<circle cx="771.5" cy="251.5" r="13.6" fill="#fff" stroke="#444" stroke-width="1.4"/>
<circle cx="771.5" cy="251.5" r="9.6" fill="#999" stroke="#333" stroke-width="1.8"/>
<circle cx="771.5" cy="251.5" r="5.6" fill="#d6d6d6" stroke="#777" stroke-width="0.8"/>
<path d="M764.5 266 Q771.5 274 778.5 266" class="k" />
<circle cx="771.5" cy="324.5" r="8.5" class="h"/>
<path d="M767.5 324.5 H775.5 M771.5 320.5 V328.5" class="k" />
<circle cx="771.5" cy="496.6" r="35.6" fill="none" stroke="#444" stroke-width="1.5"/>
<circle cx="771.5" cy="496.6" r="32.6" fill="none" stroke="#555" stroke-width="1.1"/>
<circle cx="771.5" cy="496.6" r="25" class="hl" style="stroke:#777"/>
<circle cx="795.1" cy="506.4" r="2.3" fill="#666"/>
<circle cx="781.3" cy="520.2" r="2.3" fill="#666"/>
<circle cx="761.7" cy="520.2" r="2.3" fill="#666"/>
<circle cx="747.9" cy="506.4" r="2.3" fill="#666"/>
<circle cx="747.9" cy="486.8" r="2.3" fill="#666"/>
<circle cx="761.7" cy="473.0" r="2.3" fill="#666"/>
<circle cx="781.3" cy="473.0" r="2.3" fill="#666"/>
<circle cx="795.1" cy="486.8" r="2.3" fill="#666"/>
<circle cx="771.5" cy="520" r="8.9" fill="#f4f4f4" stroke="#555" stroke-width="1.8"/>
<circle cx="771.5" cy="520" r="4.5" fill="none" stroke="#999" stroke-width="0.8"/>
<path d="M687.0 562.7 L682.6 587.5 Q681.5 593.6 670.3 594" fill="none" stroke="#333" stroke-width="2"/>
<path d="M708.0 572 L703.0 594.4" fill="none" stroke="#555" stroke-width="1.5"/>
<path d="M677.0 556 Q697.0 567 718.0 573" fill="none" stroke="#444" stroke-width="2.2"/>
<path d="M856.0 562.7 L860.4 587.5 Q861.5 593.6 872.7 594" fill="none" stroke="#333" stroke-width="2"/>
<path d="M835.0 572 L840.0 594.4" fill="none" stroke="#555" stroke-width="1.5"/>
<path d="M866.0 556 Q846.0 567 825.0 573" fill="none" stroke="#444" stroke-width="2.2"/>
<path d="M752.4 595 V566 M790.7 595 V566" class="k2" />
<path d="M750.5 563 Q751 555 771.5 555 Q792 555 792.5 563 Q771.5 572 750.5 563 Z" fill="#d0d0d0" stroke="#333" stroke-width="1.5"/>
<path d="M752 563 Q771.5 570 791 563" class="kk" />
<line x1="752.4" y1="594.0" x2="790.7" y2="594.0" class="kk"/>
<path d="M760 572 Q771.5 585 783 572" class="hl" />
<line x1="640.0" y1="594.6" x2="995.5" y2="594.6" class="k2"/>
<line x1="904.0" y1="86.5" x2="996.0" y2="86.5" class="d"/>
<line x1="877.0" y1="114.6" x2="973.0" y2="114.6" class="d"/>
<line x1="830.0" y1="578.0" x2="950.0" y2="578.0" class="d"/>
<line x1="946.0" y1="114.6" x2="946.0" y2="578.0" class="d"/><polygon class="ar" points="946.0,114.6 944.4,119.6 947.6,119.6"/><polygon class="ar" points="946.0,578.0 944.4,573.0 947.6,573.0"/>
<line x1="969.0" y1="114.6" x2="969.0" y2="595.0" class="d"/><polygon class="ar" points="969.0,114.6 967.4,119.6 970.6,119.6"/><polygon class="ar" points="969.0,595.0 967.4,590.0 970.6,590.0"/>
<line x1="993.0" y1="86.5" x2="993.0" y2="595.0" class="d"/><polygon class="ar" points="993.0,86.5 991.4,91.5 994.6,91.5"/><polygon class="ar" points="993.0,595.0 991.4,590.0 994.6,590.0"/>
<text x="0" y="0" class="t" text-anchor="middle" transform="translate(941.5 345.7) rotate(-90)">(1866)</text>
<text x="0" y="0" class="t" text-anchor="middle" transform="translate(964.5 345.7) rotate(-90)">(1934)</text>
<text x="0" y="0" class="t" text-anchor="middle" transform="translate(988.0 345.7) rotate(-90)">(2050)</text>
<text x="800.0" y="61.0" class="t" text-anchor="start" textLength="32.6" lengthAdjust="spacingAndGlyphs">G 1 1/4</text><line x1="796.0" y1="65.3" x2="835.0" y2="65.3" class="d"/><line x1="796.0" y1="65.3" x2="772.5" y2="106.5" class="d"/><circle cx="772.5" cy="106.5" r="1.1" class="ar"/>
<text x="774.2" y="633.5" class="tv" text-anchor="middle" textLength="60" lengthAdjust="spacingAndGlyphs">Front view</text>
<path d="M1094 80 V574 M1358.6 80 V574" fill="none" stroke="#777" stroke-width="1.1"/>
<path d="M1094 574 A132.29999999999995 33 0 0 0 1358.6 574" fill="none" stroke="#777" stroke-width="1.1"/>
<path d="M1094 97 A132.29999999999995 30 0 0 0 1358.6 97" fill="none" stroke="#777" stroke-width="1.1"/>
<ellipse cx="1226.3" cy="79.5" rx="132.29999999999995" ry="31.5" fill="none" stroke="#777" stroke-width="1.1"/>
<ellipse cx="1226.3" cy="81.5" rx="129.29999999999995" ry="29" fill="none" stroke="#aaa" stroke-width="0.9"/>
<ellipse cx="1226.3" cy="81" rx="115" ry="27.5" fill="none" stroke="#555" stroke-width="1.5"/>
<ellipse cx="1226.3" cy="80" rx="78" ry="18.5" fill="none" stroke="#555" stroke-width="1.5"/>
<ellipse cx="1226.3" cy="79.4" rx="41" ry="10" fill="none" stroke="#555" stroke-width="1.5"/>
<circle cx="1299.2" cy="199.2" r="5.3" fill="#fff" stroke="#333" stroke-width="1.8"/>
<line x1="1297" y1="201" x2="1301" y2="197" stroke="#444" stroke-width="1"/>
<rect x="1285" y="208.5" width="26" height="13.5" rx="1" fill="#c8c8c8" stroke="#999" stroke-width="0.8"/>
<rect x="1285" y="208.5" width="21" height="13.5" rx="1" fill="#8c8c8c"/>
<rect x="1288" y="212.5" width="15" height="5" fill="#555"/>
<ellipse cx="1297.8" cy="237.5" rx="11.7" ry="13.7" fill="#fff" stroke="#999" stroke-width="1.2"/>
<circle cx="1299.5" cy="238.0" r="9" fill="#fff" stroke="#333" stroke-width="1.8"/>
<circle cx="1303" cy="238.5" r="7.5" fill="#fff" stroke="#444" stroke-width="1.5"/>
<ellipse cx="1297.8" cy="269" rx="11.7" ry="13.7" fill="#fff" stroke="#999" stroke-width="1.2"/>
<circle cx="1299.5" cy="269.5" r="9" fill="#fff" stroke="#333" stroke-width="1.8"/>
<circle cx="1303" cy="270" r="7.5" fill="#fff" stroke="#444" stroke-width="1.5"/>
<ellipse cx="1305.5" cy="510" rx="28.5" ry="33.8" transform="rotate(18 1305.5 510)" fill="none" stroke="#444" stroke-width="1.8"/>
<text x="1234.9" y="633.5" class="tv" text-anchor="middle" textLength="84" lengthAdjust="spacingAndGlyphs">Isometric view</text>
<line x1="635.0" y1="848.1" x2="908.0" y2="848.1" class="c"/>
<line x1="771.4" y1="700.0" x2="771.4" y2="995.0" class="c"/>
<circle cx="771.4" cy="848.1" r="97" class="c"/>
<circle cx="771.4" cy="848.1" r="82.5" class="c"/>
<circle cx="771.4" cy="848.1" r="86.5" fill="none" stroke="#777" stroke-width="1.1"/>
<circle cx="771.4" cy="848.1" r="76.8" fill="none" stroke="#666" stroke-width="1.1"/>
<circle cx="771.4" cy="848.1" r="105" fill="none" stroke="#444" stroke-width="1.5"/>
<circle cx="771.4" cy="848.1" r="131" fill="none" stroke="#666" stroke-width="1.35"/>
<line x1="771.4" y1="848.1" x2="687.5" y2="793.6" class="c"/>
<line x1="771.4" y1="848.1" x2="855.3" y2="793.6" class="c"/>
<path d="M688.5 780.4 L709.6 787.9 L686.2 820.3 L671.9 810.2 Z" fill="none" stroke="#444" stroke-width="1.3"/>
<path d="M688.5 780.4 L671.9 810.2" stroke="#333" stroke-width="2.2"/>
<path d="M854.3 780.4 L833.2 787.9 L856.6 820.3 L870.9 810.2 Z" fill="none" stroke="#444" stroke-width="1.3"/>
<path d="M854.3 780.4 L870.9 810.2" stroke="#333" stroke-width="2.2"/>
<circle cx="703.5" cy="808.3" r="17.7" class="h" style="stroke:#555;stroke-width:1.3"/>
<circle cx="839.3" cy="808.3" r="17.7" class="h" style="stroke:#555;stroke-width:1.3"/>
<circle cx="693.7" cy="803" r="11" class="hl"/>
<circle cx="849.1" cy="803" r="11" class="hl"/>
<circle cx="771.4" cy="930.3" r="21.2" class="h" style="stroke:#555;stroke-width:1.3"/>
<circle cx="771.4" cy="937.5" r="15" class="h" style="stroke:#555;stroke-width:1.2"/>
<path d="M767 860 V980 M775.6 860 V980" class="h" />
<rect x="765.7" y="707.5" width="12" height="59" rx="5" fill="#c8c8c8" stroke="#444" stroke-width="1.4"/>
<line x1="767" y1="714" x2="776" y2="718" stroke="#777" stroke-width="0.7"/>
<line x1="767" y1="720" x2="776" y2="724" stroke="#777" stroke-width="0.7"/>
<line x1="767" y1="726" x2="776" y2="730" stroke="#777" stroke-width="0.7"/>
<line x1="767" y1="732" x2="776" y2="736" stroke="#777" stroke-width="0.7"/>
<line x1="767" y1="738" x2="776" y2="742" stroke="#777" stroke-width="0.7"/>
<line x1="767" y1="744" x2="776" y2="748" stroke="#777" stroke-width="0.7"/>
<line x1="767" y1="750" x2="776" y2="754" stroke="#777" stroke-width="0.7"/>
<line x1="767" y1="756" x2="776" y2="760" stroke="#777" stroke-width="0.7"/>
<line x1="767" y1="762" x2="776" y2="766" stroke="#777" stroke-width="0.7"/>
<path d="M752 717 Q771.4 711 790 717" class="kk" />
<path d="M767 770 L771.4 783 L776 770" class="k" />
<rect x="767.5" y="833" width="8" height="9" fill="none" stroke="#aaa" stroke-width="0.8"/>
<circle cx="771.4" cy="848.1" r="6.2" fill="#fff" stroke="#333" stroke-width="2.2"/>
<rect x="736.4" y="947.8" width="70.1" height="44.7" fill="none" stroke="#777" stroke-width="1.1"/>
<path d="M733.1 973.4 A131 131 0 0 0 809.7 973.4" fill="none" stroke="#666" stroke-width="1.35"/>
<path d="M739.5 962 Q771.4 958 803.5 962 Q805 965 800 967 H743 Q738 965 739.5 962 Z" fill="#c4c4c4" stroke="#333" stroke-width="1.2"/>
<line x1="742.0" y1="967.2" x2="801.0" y2="967.2" class="kk"/>
<line x1="747.0" y1="948.0" x2="747.0" y2="960.0" class="k"/>
<line x1="761.8" y1="948.0" x2="761.8" y2="960.0" class="k"/>
<line x1="781.0" y1="948.0" x2="781.0" y2="960.0" class="k"/>
<line x1="795.2" y1="948.0" x2="795.2" y2="960.0" class="k"/>
<rect x="769.7" y="948" width="4.6" height="33" fill="#fff" stroke="#444" stroke-width="1"/>
<rect x="762.4" y="981.2" width="17.6" height="11.3" fill="#fff" stroke="#555" stroke-width="1.2"/>
<path d="M757 979 Q771.4 973 786 979" class="kk" />
<path d="M612.0 752.3 A186 186 0 0 1 931.7 753.7" class="d"/>
<line x1="612.0" y1="752.3" x2="674.9" y2="792.4" class="d"/>
<line x1="931.7" y1="753.7" x2="867.9" y2="792.4" class="d"/>
<polygon class="ar" points="612.0,752.3 614.0,747.3 616.5,749.3"/>
<polygon class="ar" points="931.7,753.7 929.7,748.7 927.2,750.7"/>
<text x="771.7" y="657.5" class="t" text-anchor="middle" textLength="33" lengthAdjust="spacingAndGlyphs">3x(120°)</text>
<line x1="687.5" y1="696.6" x2="855.6" y2="696.6" class="d"/>
<polygon class="ar" points="687.5,696.6 692.5,695.0 692.5,698.2"/>
<polygon class="ar" points="855.6,696.6 850.6,695.0 850.6,698.2"/>
<line x1="687.5" y1="690.0" x2="687.5" y2="782.0" class="d"/>
<line x1="855.6" y1="690.0" x2="855.6" y2="782.0" class="d"/>
<text x="771.5" y="690.5" class="t" text-anchor="middle" textLength="21" lengthAdjust="spacingAndGlyphs">(875)</text>
<line x1="778.0" y1="708.0" x2="962.0" y2="708.0" class="d"/>
<line x1="905.0" y1="848.1" x2="962.0" y2="848.1" class="d"/>
<line x1="806.5" y1="992.5" x2="962.0" y2="992.5" class="d"/>
<line x1="958.0" y1="708.0" x2="958.0" y2="848.1" class="d"/><polygon class="ar" points="958.0,708.0 956.4,713.0 959.6,713.0"/><polygon class="ar" points="958.0,848.1 956.4,843.1 959.6,843.1"/>
<line x1="958.0" y1="848.1" x2="958.0" y2="992.5" class="d"/><polygon class="ar" points="958.0,848.1 956.4,853.1 959.6,853.1"/><polygon class="ar" points="958.0,992.5 956.4,987.5 959.6,987.5"/>
<text x="0" y="0" class="t" text-anchor="middle" transform="translate(952.0 778.0) rotate(-90)">(567)</text>
<text x="0" y="0" class="t" text-anchor="middle" transform="translate(952.0 920.0) rotate(-90)">(585)</text>
<line x1="590.0" y1="752.0" x2="765.0" y2="752.0" class="d"/>
<line x1="590.0" y1="944.4" x2="752.0" y2="944.4" class="d"/>
<line x1="594.6" y1="752.0" x2="594.6" y2="944.4" class="d"/><polygon class="ar" points="594.6,752.0 593.0,757.0 596.2,757.0"/><polygon class="ar" points="594.6,944.4 593.0,939.4 596.2,939.4"/>
<text x="0" y="0" class="t" text-anchor="middle" transform="translate(588.5 847.0) rotate(-90)">(Ø780)</text>
<line x1="604.0" y1="913.0" x2="905.0" y2="797.0" class="d"/>
<polygon class="ar" points="649.2,895.2 643.9,895.5 645.1,898.5"/>
<text x="0" y="0" class="t" text-anchor="middle" transform="translate(617.0 901.0) rotate(-21.075767716495722)">(Ø1085)</text>
<text x="775.0" y="1009.0" class="tv" text-anchor="middle" textLength="52" lengthAdjust="spacingAndGlyphs">Top view</text>
</g>
</svg></body></html>
